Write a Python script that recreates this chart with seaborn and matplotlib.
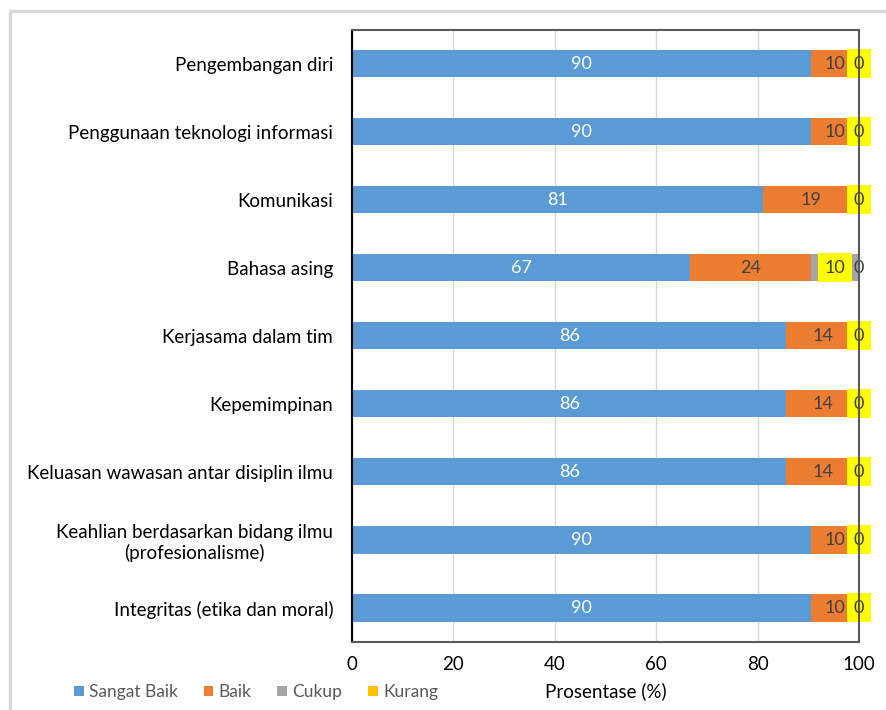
import matplotlib
matplotlib.use("Agg")
import matplotlib.pyplot as plt
import seaborn as sns
import pandas as pd
from matplotlib.patches import Patch, Rectangle

categories = [
    "Pengembangan diri",
    "Penggunaan teknologi informasi",
    "Komunikasi",
    "Bahasa asing",
    "Kerjasama dalam tim",
    "Kepemimpinan",
    "Keluasan wawasan antar disiplin ilmu",
    "Keahlian berdasarkan bidang ilmu\n(profesionalisme)",
    "Integritas (etika dan moral)",
]
sangat_baik = [90.5, 90.5, 81.0, 66.7, 85.7, 85.7, 85.7, 90.5, 90.5]
baik = [9.5, 9.5, 19.0, 23.8, 14.3, 14.3, 14.3, 9.5, 9.5]
cukup = [0.0, 0.0, 0.0, 9.5, 0.0, 0.0, 0.0, 0.0, 0.0]
kurang = [0.0, 0.0, 0.0, 0.0, 0.0, 0.0, 0.0, 0.0, 0.0]
series_names = ["Sangat Baik", "Baik", "Cukup", "Kurang"]
x_ticks = [0, 20, 40, 60, 80, 100]

colors = {"Sangat Baik": "#5B9BD5", "Baik": "#ED7D31", "Cukup": "#A5A5A5", "Kurang": "#FFC000"}

sns.set_theme(style="white")
plt.rcParams["font.family"] = ["Lato", "DejaVu Sans"]

df = pd.DataFrame({"cat": categories, "sb": sangat_baik, "b": baik, "c": cukup, "k": kurang})
df["c1"] = df["sb"]
df["c2"] = df["sb"] + df["b"]
df["c3"] = df["c2"] + df["c"]
df["c4"] = df["c3"] + df["k"]

fig = plt.figure(figsize=(8.87, 7.10), dpi=100)
ax = fig.add_axes([352 / 887, 1 - 642 / 710, (859 - 352) / 887, (642 - 29.5) / 710])

bw = 0.4
for col, name in [("c4", "Kurang"), ("c3", "Cukup"), ("c2", "Baik"), ("c1", "Sangat Baik")]:
    sns.barplot(data=df, x=col, y="cat", order=categories, color=colors[name],
                width=bw, ax=ax, saturation=1, edgecolor="none", linewidth=0)

ax.set_xlim(0, 100)
ax.set_xticks(x_ticks)
ax.set_xticklabels([str(t) for t in x_ticks])
ax.grid(axis="x", color="#D9D9D9", linewidth=1)
ax.set_axisbelow(True)
ax.tick_params(axis="y", length=0, pad=13.5, labelsize=13.5, labelcolor="#000000")
ax.tick_params(axis="x", length=0, pad=10, labelsize=13.5, labelcolor="#000000")
for lbl in ax.get_yticklabels():
    lbl.set_multialignment("center")
ax.set_ylabel("")
ax.set_xlabel("Prosentase (%)", fontsize=13.5, color="#000000", labelpad=7)

for s in ["top", "right", "bottom"]:
    ax.spines[s].set_color("#595959")
    ax.spines[s].set_linewidth(1.5)
ax.spines["left"].set_color("#000000")
ax.spines["left"].set_linewidth(1.5)

fs = 13
for i in range(len(categories)):
    sb, b, c, k = sangat_baik[i], baik[i], cukup[i], kurang[i]
    ax.text(sb / 2, i, f"{sb:.0f}", ha="center", va="center", color="white", fontsize=fs, zorder=3)
    ax.text(sb + b / 2, i, f"{b:.0f}", ha="center", va="center", color="#404040", fontsize=fs, zorder=3)
    ax.text(sb + b + k + c / 2 if c > 0 else 100, i, f"{c:.0f}", ha="center", va="center",
            color="#404040", fontsize=fs, zorder=2.2, clip_on=False,
            bbox=dict(boxstyle="square,pad=0.36", facecolor="#FFFF00", edgecolor="none"))
    if c > 0:
        ax.text(sb + b + c + k, i, f"{k:.0f}", ha="center", va="center", color="#404040",
                fontsize=fs, zorder=2.2, clip_on=False)

handles = [Patch(facecolor=colors[n], edgecolor="none", label=n) for n in series_names]
leg = fig.legend(handles=handles, loc="center", bbox_to_anchor=(256 / 887, 1 - 692 / 710), ncol=4,
                 frameon=False, fontsize=12.5, handlelength=0.55, handleheight=0.55,
                 handletextpad=0.3, columnspacing=1.5)
for t in leg.get_texts():
    t.set_color("#595959")

fig.add_artist(Rectangle((10 / 887, -0.1), 1.2, 1 - 11 / 710 + 0.1, transform=fig.transFigure,
                         fill=False, edgecolor="#D9D9D9", linewidth=2.5))

fig.savefig("out.png", dpi=100, facecolor="white")
